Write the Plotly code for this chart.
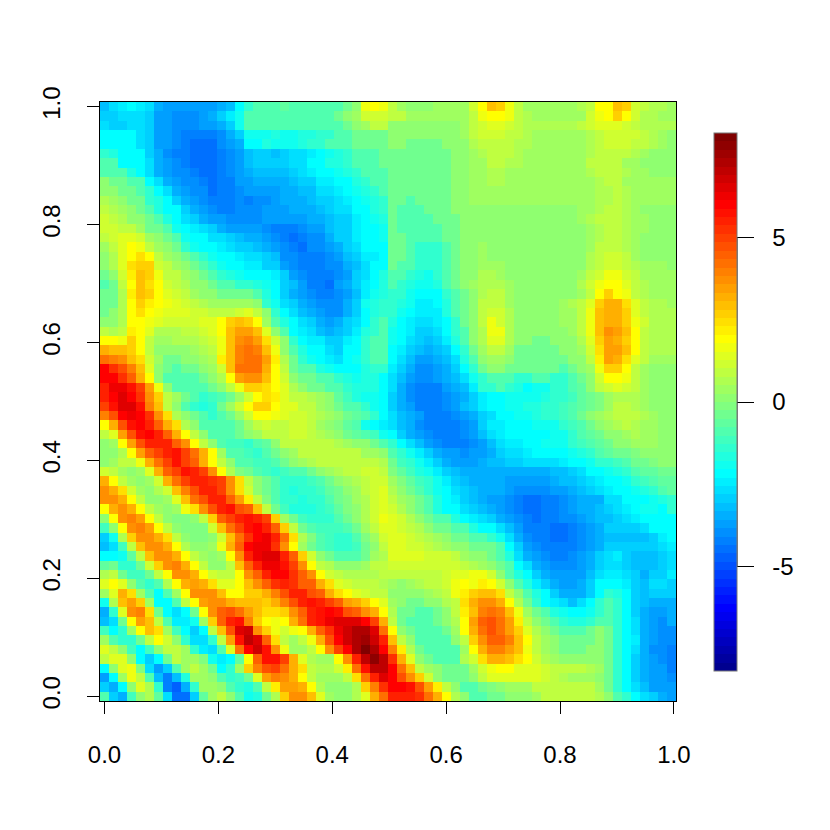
import numpy as np
import plotly.graph_objects as go

# jet-like palette, 64 steps (tim.colors)
palette_rgb = []
for k in range(64):
    r = min(1, max(0, min((k - 23) / 16, (71 - k) / 16)))
    g = min(1, max(0, min((k - 7) / 16, (55 - k) / 16)))
    b = min(1, max(0, min((k + 9) / 16, (39 - k) / 16)))
    palette_rgb.append(f"rgb({round(r * 255)},{round(g * 255)},{round(b * 255)})")

z_min = -8.18
z_max = 8.18
x_ticks = [0.0, 0.2, 0.4, 0.6, 0.8, 1.0]
y_ticks = [0.0, 0.2, 0.4, 0.6, 0.8, 1.0]
bar_ticks = [-5, 0, 5]

# values in tenths, first row is the bottom of the image
z_tenths = [
[-10,-30,-35,-12,2,7,-7,-27, -46,-44,-30,-7,5,10,1,-10, -19,-16,-3,7,27,37,37,30, 13,3,1,1,7,14,32,43, 54,55,55,53,43,32,20,7, 0,-8,-8,-5,-3,0,0,2, 5,10,10,10,10,10,10,7, 0,-8,-13,-21,-27,-30,-34,-37],
[-30,-34,-21,2,15,7,-15,-42, -48,-35,-13,5,4,2,-8,-13, -16,-8,10,22,35,35,33,20, 7,2,1,2,7,28,40,53, 60,60,58,48,35,22,10,0, -8,-8,-5,-2,1,3,5,5, 8,10,10,10,10,9,8,5, -3,-13,-21,-27,-32,-37,-37,-37],
[-37,-21,3,17,10,-10,-32,-42, -33,-16,5,5,0,-10,-15,-12, -3,14,35,40,38,32,20,10, 5,5,3,8,24,43,56,66, 60,48,37,27,12,2,-5,-5, -5,0,8,13,14,15,14,14, 14,12,10,7,5,5,5,2, -3,-13,-21,-30,-34,-37,-37,-40],
[-22,0,14,16,-2,-27,-37,-30, -8,5,8,5,-3,-21,-13,3, 26,40,47,50,43,33,25,10, 6,7,12,22,42,58,70,70, 60,42,30,10,3,0,-5,-5, -3,5,12,17,20,19,15,13, 13,11,10,10,10,9,7,3, -3,-13,-21,-30,-34,-37,-38,-41],
[8,13,13,0,-21,-30,-23,-5, 8,5,3,-1,-18,-25,-21,-7, 20,44,58,58,50,32,14,7, 5,5,20,36,54,70,78,70, 53,32,15,2,-5,-10,-10,-8, 7,12,24,32,32,30,24,20, 12,7,5,2,2,2,2,2, -3,-13,-21,-30,-34,-37,-40,-42],
[14,10,0,-12,-21,-12,0,10, 10,3,-13,-25,-27,-8,14,43, 60,67,58,38,16,5,3,10, 20,36,50,60,74,80,74,60, 40,22,7,-3,-8,-10,-10,-8, 5,20,32,40,40,35,30,16, 10,5,2,-3,-3,-3,0,2, -5,-13,-23,-27,-34,-40,-40,-42],
[3,-8,-15,-15,-5,8,20,12, 2,-15,-27,-27,-13,10,35,57, 71,65,44,24,10,5,10,16, 32,48,60,67,74,76,69,56, 30,10,0,-8,-10,-10,-8,0, 10,27,37,45,45,40,30,18, 10,5,0,-3,-5,-5,-3,2, -5,-13,-21,-25,-34,-37,-40,-40],
[-12,-21,-15,3,20,30,24,5, -12,-23,-30,-21,8,30,48,66, 68,36,27,16,12,16,20,32, 44,52,62,67,72,72,66,42, 20,2,-5,-8,-10,-10,-5,5, 18,32,43,48,43,35,27,15, 7,0,-5,-8,-8,-8,-5,0, -3,-13,-23,-27,-34,-37,-40,-40],
[-32,-27,-5,18,35,30,10,-10, -25,-25,-18,5,27,46,56,58, 40,27,18,16,19,33,42,56, 58,62,64,64,66,60,50,32, 10,-3,-8,-8,-8,-5,0,7, 20,35,45,48,43,35,22,10, 2,-5,-8,-13,-16,-16,-13,-8, -8,-13,-21,-27,-34,-37,-40,-34],
[-34,-13,14,38,40,24,-3,-23, -27,-23,-3,20,38,46,48,42, 35,30,24,24,28,38,44,54, 58,61,57,48,44,36,32,20, 7,-3,-5,-8,-8,-3,2,10, 22,30,40,43,40,30,17,5, -3,-10,-16,-18,-21,-23,-18,-13, -10,-13,-21,-30,-34,-37,-37,-34],
[-18,6,30,35,26,5,-23,-23, -8,10,18,35,38,38,33,30, 30,30,27,32,40,48,56,58, 56,50,44,35,33,26,20,14, 5,0,-3,-3,0,2,7,10, 24,32,37,37,32,20,7,-3, -13,-21,-25,-27,-32,-27,-21,-13, -10,-13,-21,-30,-32,-34,-34,-34],
[3,15,32,25,5,-10,-21,-10, 5,18,36,38,36,30,19,19, 26,27,33,40,48,56,54,48, 44,33,24,20,14,12,10,10, 2,2,0,2,5,7,10,17, 22,27,30,30,24,10,0,-8, -16,-23,-30,-34,-34,-34,-30,-23, -13,-16,-23,-30,-32,-30,-30,-30],
[14,20,14,2,-8,-13,-8,7, 18,32,35,32,24,14,14,18, 30,37,45,53,56,53,46,44, 32,24,14,11,10,8,8,7, 5,2,5,7,10,10,12,16, 20,17,22,20,12,2,-8,-16, -25,-30,-34,-37,-37,-34,-30,-23, -21,-21,-25,-30,-32,-27,-27,-30],
[7,9,-3,-12,-12,-3,8,20, 38,36,33,20,12,8,10,18, 36,46,56,59,61,52,44,36, 20,11,8,7,6,6,7,10, 10,10,10,10,10,10,12,15, 15,16,16,12,2,-8,-16,-21, -30,-34,-37,-37,-37,-37,-32,-27, -25,-25,-27,-30,-34,-30,-30,-25],
[-6,-3,-13,-13,-4,12,27,38, 40,33,20,9,2,2,10,30, 44,56,62,62,58,50,36,18, 10,6,2,0,1,5,8,10, 11,11,11,11,11,11,11,11, 10,7,5,2,-3,-10,-21,-27, -34,-37,-40,-40,-40,-37,-34,-30, -27,-27,-30,-32,-32,-32,-30,-27],
[-21,-22,-19,-6,10,29,38,38, 33,20,8,3,2,4,20,38, 54,62,65,65,54,44,26,11, 2,-4,-8,-9,-9,-3,3,7, 13,13,13,13,12,12,11,10, 5,2,0,-3,-8,-16,-27,-34, -37,-40,-42,-42,-40,-37,-34,-30, -27,-25,-30,-32,-32,-32,-30,-27],
[-32,-27,-11,8,30,38,38,33, 20,7,1,1,4,17,32,46, 60,63,63,52,36,19,5,-4, -8,-11,-14,-14,-12,-5,2,9, 14,13,12,11,9,7,5,2, 0,-3,-5,-5,-10,-21,-30,-37, -40,-42,-42,-42,-42,-40,-37,-34, -30,-30,-30,-30,-30,-30,-27,-25],
[-29,-20,6,28,37,38,33,25, 8,1,-1,-1,1,11,29,41, 53,60,62,56,41,25,7,-2, -8,-11,-13,-13,-8,-2,5,12, 14,13,11,9,7,5,0,-3, -5,-8,-10,-13,-18,-27,-34,-40, -42,-42,-45,-45,-42,-40,-37,-34, -32,-32,-32,-32,-32,-30,-25,-21],
[-12,0,18,38,40,35,20,10, 0,-2,-2,-1,12,30,41,51, 58,60,56,44,27,10,-3,-10, -12,-12,-11,-8,-3,3,10,15, 15,12,10,7,2,-3,-5,-8, -10,-16,-21,-23,-27,-32,-37,-42, -42,-42,-45,-45,-42,-40,-37,-34, -30,-30,-30,-30,-27,-23,-21,-21],
[0,20,38,40,35,20,9,2, -1,-1,1,9,28,44,50,56, 58,56,50,27,5,-5,-11,-14, -15,-13,-9,-4,1,6,12,16, 14,12,7,2,-3,-8,-10,-16, -21,-25,-27,-30,-34,-37,-40,-42, -45,-42,-42,-40,-40,-37,-34,-32, -32,-30,-27,-25,-21,-23,-21,-21],
[20,32,38,33,19,10,3,1, 4,16,24,38,48,54,57,48, 44,30,10,-3,-12,-16,-17,-16, -14,-11,-6,-2,2,6,12,15, 12,7,2,-3,-10,-16,-21,-23, -27,-30,-32,-34,-37,-40,-42,-45, -45,-42,-42,-40,-37,-34,-34,-32, -30,-27,-25,-21,-18,-18,-21,-13],
[38,36,32,20,8,1,2,5, 14,29,42,48,54,54,46,34, 22,8,-2,-8,-13,-15,-16,-15, -13,-9,-5,-1,3,7,12,15, 10,5,0,-5,-10,-16,-21,-25, -30,-32,-34,-37,-37,-40,-42,-45, -45,-42,-42,-40,-37,-34,-34,-34, -27,-27,-23,-21,-23,-18,-16,-13],
[38,32,25,12,3,1,6,11, 30,40,48,54,55,49,38,25, 12,1,-4,-10,-14,-16,-15,-14, -11,-7,-3,1,4,8,12,13, 7,2,-3,-8,-13,-18,-23,-27, -30,-32,-34,-34,-35,-37,-40,-40, -40,-40,-37,-37,-34,-32,-30,-27, -25,-23,-21,-19,-17,-13,-10,-7],
[32,20,10,3,1,4,12,32, 43,50,54,54,53,49,36,25, 8,1,-4,-9,-13,-14,-15,-12, -8,-4,0,3,6,8,11,12, 3,-2,-7,-11,-15,-20,-25,-30, -32,-34,-34,-34,-34,-37,-37,-37, -37,-37,-34,-33,-32,-30,-27,-25, -23,-21,-18,-15,-12,-9,-7,-6],
[12,9,3,2,5,14,32,44, 50,57,54,50,38,20,7,-1, -5,-9,-11,-13,-12,-10,-8,-3, 1,4,6,9,10,12,12,10, -1,-7,-11,-16,-20,-25,-30,-33, -34,-34,-34,-34,-34,-34,-34,-34, -34,-34,-32,-32,-30,-27,-23,-21, -19,-17,-13,-10,-7,-6,-4,-3],
[1,3,8,10,17,32,42,50, 57,50,44,32,20,8,0,-8, -10,-12,-11,-8,-4,0,4,7, 9,9,9,10,10,9,8,6, -3,-11,-15,-20,-25,-30,-34,-36, -37,-37,-34,-33,-32,-30,-30,-28, -28,-27,-27,-25,-23,-21,-18,-15, -13,-11,-8,-5,-3,-1,0,0],
[0,1,6,20,35,44,50,55, 58,50,41,32,20,3,-8,-10, -12,-13,-9,-4,0,4,8,9, 10,10,10,9,8,5,3,1, -8,-15,-20,-25,-30,-34,-37,-38, -40,-38,-36,-34,-30,-27,-27,-25, -23,-23,-22,-21,-19,-16,-13,-10, -7,-5,-3,-1,0,1,2,2],
[1,3,20,35,47,54,56,54, 44,36,20,10,1,-10,-12,-12, -13,-10,-6,0,8,10,10,10, 9,8,6,3,2,0,-4,-8, -15,-21,-27,-32,-37,-40,-41,-42, -42,-40,-37,-32,-27,-25,-25,-23, -21,-20,-19,-18,-15,-12,-9,-6, -3,0,2,3,3,3,2,2],
[8,13,34,48,58,60,54,45, 33,20,9,0,-9,-10,-8,-5, 2,5,8,8,10,12,12,10, 7,3,0,-3,-6,-9,-12,-18, -23,-30,-34,-37,-40,-41,-42,-41, -40,-37,-32,-27,-25,-23,-22,-21, -21,-21,-20,-19,-15,-10,-7,-3, 1,2,4,6,5,3,2,1],
[20,32,48,58,60,55,45,32, 24,7,0,-8,-10,-10,-8,-3, 5,10,12,10,10,12,12,10, 5,1,-2,-6,-10,-18,-21,-24, -27,-32,-35,-39,-41,-42,-42,-41, -40,-37,-30,-25,-24,-22,-21,-21, -19,-19,-18,-15,-12,-8,-3,2, 5,6,8,7,5,3,1,1],
[40,48,60,63,60,53,37,24, 7,0,-5,-10,-13,-10,-3,5, 12,18,18,17,13,12,12,10, 6,3,0,-3,-7,-10,-15,-21, -27,-32,-35,-38,-41,-42,-42,-40, -38,-34,-30,-26,-22,-21,-20,-18, -17,-15,-14,-11,-8,-5,0,3, 6,8,9,8,6,4,2,2],
[50,58,65,65,58,40,30,10, 0,-8,-13,-16,-13,-3,5,12, 20,27,27,20,13,13,10,8, 4,0,-4,-8,-10,-15,-18,-21, -30,-34,-38,-41,-42,-41,-40,-37, -33,-30,-25,-21,-21,-20,-18,-17, -16,-14,-14,-12,-9,-7,-4,-1, 5,8,8,7,5,2,1,1],
[54,60,64,60,52,38,26,8, 3,-5,-10,-13,-12,-8,-3,3, 12,20,24,22,14,10,8,7, 5,1,-6,-12,-16,-19,-20,-21, -30,-34,-40,-42,-43,-42,-40,-37, -34,-30,-24,-21,-21,-20,-18,-20, -19,-17,-15,-13,-11,-7,-3,-1, 3,6,7,6,4,2,1,0],
[55,62,63,58,50,35,16,0, -8,-10,-10,-8,-3,2,10,17, 27,27,24,20,13,7,2,-3, -5,-8,-10,-13,-16,-16,-16,-21, -27,-34,-40,-43,-43,-42,-37,-34, -32,-25,-15,-13,-10,-13,-17,-21, -20,-18,-15,-13,-10,-6,0,8, 12,13,12,8,3,2,1,1],
[60,60,53,45,32,20,2,-8, -10,-10,-8,-5,0,7,20,35, 37,37,30,20,12,2,-3,-5, -8,-10,-13,-16,-18,-16,-16,-21, -27,-32,-37,-40,-40,-37,-34,-32, -27,-18,-13,-8,-8,-10,-13,-13, -10,-10,-13,-13,-10,-5,2,12, 20,20,16,10,5,2,2,0],
[60,53,48,40,30,15,2,-5, -8,-5,-3,0,5,12,30,43, 43,43,32,20,10,-3,-8,-10, -16,-18,-23,-23,-21,-16,-13,-13, -25,-30,-34,-40,-40,-37,-34,-30, -21,-13,-3,0,0,-3,-5,-5, -3,-3,-5,-8,-3,0,5,16, 27,27,20,10,5,2,2,2],
[43,40,37,30,24,12,5,-3, -3,0,2,5,7,22,30,40, 43,43,35,22,7,-5,-13,-18, -21,-25,-27,-23,-18,-13,-10,-10, -23,-27,-32,-37,-37,-34,-32,-27, -16,-8,0,5,5,0,-3,-3, -3,-3,-3,-3,0,2,10,22, 35,32,24,15,10,5,5,5],
[32,30,30,27,20,10,2,0, 0,2,5,7,10,16,30,40, 43,40,30,16,2,-8,-16,-23, -23,-27,-30,-23,-21,-13,-10,-8, -21,-25,-30,-32,-34,-32,-30,-21, -13,-3,5,10,10,5,-3,-3, -3,-3,-3,0,2,5,12,24, 35,35,30,20,10,7,7,7],
[20,20,17,27,20,10,5,5, 7,7,7,10,12,17,30,37, 40,35,24,12,0,-13,-21,-25, -25,-30,-30,-25,-21,-13,-10,-8, -18,-23,-27,-30,-32,-30,-25,-16, -8,0,7,15,15,7,0,0, -3,-3,0,2,2,7,15,27, 35,32,27,20,10,7,7,7],
[10,7,10,22,20,15,7,7, 7,10,10,12,15,20,30,35, 35,30,14,0,-10,-21,-25,-27, -32,-34,-32,-30,-25,-16,-13,-8, -18,-21,-25,-30,-30,-27,-23,-13, -8,0,7,16,16,7,0,0, 0,0,2,2,5,10,16,30, 37,35,30,20,10,7,7,7],
[0,2,7,20,20,17,15,12, 12,12,12,13,15,20,27,30, 27,20,5,-8,-16,-23,-27,-30, -34,-37,-34,-30,-27,-21,-13,-10, -16,-21,-25,-27,-27,-25,-21,-13, -5,2,10,16,12,7,2,2, 2,2,2,5,5,10,17,30, 32,32,27,17,12,7,7,7],
[-3,0,7,20,24,20,16,15, 15,14,12,12,10,10,10,12, 15,10,0,-13,-23,-27,-32,-34, -37,-40,-40,-34,-30,-23,-16,-13, -13,-18,-23,-25,-25,-25,-16,-10, -3,2,10,12,12,7,2,2, 0,0,2,5,5,10,16,30, 32,32,27,15,10,7,7,7],
[-5,-3,7,20,27,22,20,17, 14,12,10,7,5,5,5,5, 5,0,-13,-18,-27,-30,-34,-37, -40,-40,-40,-34,-30,-18,-16,-13, -13,-16,-20,-24,-24,-23,-16,-8, -3,2,10,10,10,5,2,2, 2,2,2,5,7,10,15,27, 32,32,25,15,10,7,7,5],
[-5,-3,7,22,30,27,20,15, 12,10,5,2,0,-3,-3,-3, -5,-8,-16,-23,-30,-34,-37,-40, -42,-42,-40,-37,-32,-25,-18,-16, -13,-13,-18,-23,-23,-21,-13,-8, -3,2,7,10,10,5,2,2, 2,2,2,2,2,5,10,20, 27,20,16,10,7,5,5,5],
[-8,-3,10,20,30,24,20,12, 10,7,2,0,-3,-8,-10,-13, -13,-16,-18,-21,-30,-32,-37,-42, -42,-45,-37,-34,-30,-25,-21,-16, -10,-13,-16,-18,-18,-16,-10,-5, 0,5,7,7,7,5,2,2, 2,2,2,2,2,7,12,17, 20,20,15,10,7,5,5,5],
[-3,2,12,22,30,27,16,10, 10,5,0,-3,-8,-13,-16,-18, -21,-21,-23,-25,-30,-37,-40,-42, -42,-42,-40,-37,-30,-27,-21,-16, -8,-10,-13,-16,-18,-13,-10,-3, 0,2,7,7,5,2,2,2, 2,2,2,2,2,5,10,12, 16,16,12,10,5,5,5,5],
[0,7,15,24,27,27,12,10, 5,0,-5,-8,-13,-18,-21,-23, -25,-25,-30,-30,-37,-40,-42,-42, -42,-40,-40,-34,-32,-27,-23,-21, -5,-8,-10,-13,-13,-13,-8,-5, 0,2,5,5,5,2,2,2, 2,2,2,2,2,2,7,10, 12,12,10,7,5,5,5,2],
[2,7,15,20,24,20,10,5, 0,-5,-8,-13,-18,-21,-23,-25, -27,-27,-30,-32,-40,-40,-42,-42, -42,-40,-37,-32,-30,-25,-25,-21, -5,-5,-8,-13,-13,-13,-8,-3, 2,2,5,2,2,2,2,2, 2,2,2,2,2,2,7,10, 12,12,10,5,2,2,2,2],
[5,10,15,20,16,10,5,0, -5,-13,-18,-21,-23,-25,-27,-30, -30,-32,-34,-37,-40,-42,-45,-40, -40,-37,-34,-30,-27,-23,-21,-21, -3,-5,-8,-13,-13,-13,-8,-3, 2,2,5,2,2,2,2,2, 2,2,2,2,2,2,5,10, 10,10,7,5,2,2,2,2],
[10,12,15,15,12,5,0,-5, -10,-18,-21,-23,-27,-27,-30,-32, -34,-34,-37,-40,-42,-45,-42,-40, -40,-34,-30,-30,-25,-23,-21,-18, -3,-5,-8,-8,-8,-8,-5,-3, 2,2,2,2,2,2,2,2, 2,2,2,2,2,2,5,7, 10,10,7,5,2,2,2,2],
[12,12,10,10,5,-3,-5,-10, -18,-21,-25,-27,-30,-34,-37,-37, -37,-37,-40,-42,-42,-42,-40,-37, -37,-32,-30,-30,-25,-23,-21,-18, -5,-8,-8,-8,-8,-8,-5,-3, 2,2,2,2,2,2,2,2, 2,2,2,2,2,2,5,7, 10,10,7,5,5,2,2,2],
[12,10,7,2,0,-5,-10,-16, -21,-27,-30,-34,-37,-37,-40,-40, -40,-40,-37,-37,-37,-37,-37,-34, -34,-32,-30,-30,-25,-23,-18,-16, -5,-8,-8,-8,-8,-5,-3,-3, 0,2,2,2,2,2,2,2, 2,2,2,2,2,5,7,10, 10,10,7,5,5,2,2,2],
[10,7,5,0,-5,-8,-16,-21, -23,-30,-34,-37,-40,-42,-42,-40, -40,-40,-37,-37,-37,-34,-34,-34, -32,-30,-27,-27,-23,-21,-16,-13, -5,-8,-8,-8,-5,-5,-3,0, 0,2,2,2,2,2,2,2, 2,2,2,2,2,5,5,7, 10,10,7,5,2,2,2,2],
[7,5,2,-3,-5,-13,-16,-21, -30,-34,-37,-40,-42,-42,-42,-40, -42,-40,-40,-37,-34,-34,-34,-32, -30,-30,-27,-25,-21,-18,-16,-13, -5,-5,-8,-5,-5,-5,-3,0, 2,5,5,5,5,5,5,5, 5,5,5,5,5,5,5,7, 7,10,7,5,5,5,5,5],
[2,0,-3,-5,-10,-13,-21,-27, -34,-37,-40,-40,-45,-42,-42,-40, -37,-37,-37,-37,-34,-34,-32,-32, -27,-27,-25,-21,-18,-16,-13,-10, -3,-5,-5,-5,-5,-3,-3,0, 2,5,5,5,5,5,5,5, 5,5,5,5,5,5,5,7, 7,10,7,5,5,5,5,5],
[0,-3,-5,-8,-10,-21,-27,-34, -37,-40,-40,-42,-45,-42,-42,-37, -37,-34,-34,-34,-34,-32,-30,-30, -25,-25,-21,-21,-16,-13,-10,-8, -3,-5,-5,-5,-3,-3,-3,0, 2,5,5,7,7,5,5,5, 5,5,5,5,5,5,5,7, 10,10,5,5,5,5,5,5],
[-8,-8,-10,-16,-21,-27,-34,-37, -40,-40,-42,-45,-45,-42,-40,-37, -34,-32,-32,-32,-32,-30,-27,-25, -23,-21,-18,-16,-13,-10,-8,-8, -3,-5,-5,-5,-3,-3,-3,0, 2,5,5,7,7,5,5,5, 5,5,5,5,5,5,7,10, 10,10,7,5,5,2,2,2],
[-8,-10,-21,-21,-23,-27,-34,-37, -40,-42,-45,-45,-45,-42,-40,-37, -32,-30,-30,-30,-30,-27,-27,-23, -21,-16,-16,-13,-10,-8,-8,-5, -3,-5,-5,-5,-3,-3,-3,0, 2,5,5,10,10,7,7,5, 5,5,5,5,5,5,10,10, 10,10,5,5,2,2,2,2],
[-13,-16,-21,-23,-23,-30,-34,-40, -42,-42,-45,-45,-45,-42,-40,-37, -32,-30,-30,-32,-30,-27,-27,-25, -21,-18,-16,-13,-10,-8,-8,-3, -3,-5,-5,-5,-3,-3,-3,0, 2,5,7,10,10,10,7,5, 5,5,5,5,5,5,7,10, 10,10,10,7,5,2,2,2],
[-21,-21,-21,-21,-27,-30,-37,-37, -40,-42,-45,-45,-45,-40,-37,-34, -21,-21,-16,-18,-18,-18,-16,-13, -13,-10,-10,-8,-5,-3,-3,-3, 0,0,-3,-3,-3,-3,0,0, 2,7,10,10,10,10,7,7, 5,5,5,5,5,5,7,10, 12,12,12,10,10,7,5,2],
[-21,-23,-23,-23,-27,-30,-37,-37, -40,-42,-42,-42,-42,-40,-34,-30, -18,-18,-18,-16,-18,-18,-16,-16, -13,-13,-10,-10,-5,-3,-3,-3, 0,2,0,0,0,0,0,2, 5,10,12,12,12,10,10,7, 5,5,5,5,5,5,7,10, 12,12,12,12,10,7,5,2],
[-27,-30,-30,-27,-27,-30,-37,-37, -40,-40,-40,-37,-37,-34,-30,-18, -10,-10,-8,-8,-8,-8,-8,-10, -10,-10,-8,-3,2,5,10,10, 2,2,2,0,2,2,2,2, 5,10,12,15,15,12,10,7, 7,7,7,7,7,10,12,15, 15,15,12,10,7,7,7,7],
[-30,-30,-27,-27,-27,-30,-37,-37, -40,-40,-40,-37,-34,-30,-25,-18, -10,-10,-8,-8,-8,-8,-8,-8, -10,-10,-3,2,5,12,12,12, 10,10,5,5,5,5,5,5, 5,10,17,20,20,17,10,7, 5,5,5,5,5,5,12,17, 20,27,20,12,7,7,5,5],
[-32,-27,-25,-23,-24,-27,-34,-37, -37,-37,-36,-37,-37,-34,-31,-21, -13,-10,-10,-8,-6,-8,-8,-8, -10,-10,-10,-3,2,16,20,16, 10,5,2,2,2,5,5,5, 5,12,20,30,27,17,10,5, 5,5,5,5,5,7,10,20, 20,30,27,12,10,7,7,5],
]

fig = go.Figure()
fig.add_trace(go.Heatmap(
    z=np.array(z_tenths) / 10,
    x0=0,
    dx=9 / 569.4,
    y0=0,
    dy=1 / 63,
    zmin=z_min,
    zmax=z_max,
    colorscale=[[s, c] for i, c in enumerate(palette_rgb) for s in (i / 64, (i + 1) / 64)],
    hoverinfo="skip",
    colorbar=dict(
        thickness=23,
        thicknessmode="pixels",
        len=538,
        lenmode="pixels",
        x=(714 - 100) / 576,
        xanchor="left",
        xpad=0,
        y=(701 - 671) / 599,
        yanchor="bottom",
        ypad=0,
        outlinecolor="#777777",
        outlinewidth=1,
        tickmode="array",
        tickvals=bar_ticks,
        ticktext=["\u00a0\u00a0" + str(t) for t in bar_ticks],
        ticks="outside",
        ticklen=17,
        tickwidth=1,
        tickcolor="black",
        tickfont=dict(family="Liberation Sans", size=24, color="black"),
    ),
))

# page body has an 8px margin, so the figure is a bit smaller than the window
fig.update_layout(
    width=822,
    height=822,
    autosize=False,
    margin=dict(l=92, r=154, t=94, b=129),
    paper_bgcolor="white",
    plot_bgcolor="white",
    font=dict(family="Liberation Sans", size=24, color="black"),
    xaxis=dict(
        range=[-4.5 / 569.4, 571.5 / 569.4],
        tickmode="array",
        tickvals=x_ticks,
        ticktext=[f"{t:.1f}" for t in x_ticks],
        ticks="outside",
        ticklen=12,
        tickwidth=1,
        tickcolor="black",
        ticklabelstandoff=20,
        showgrid=False,
        zeroline=False,
        showline=True,
        linecolor="black",
        linewidth=1,
        mirror=True,
    ),
    yaxis=dict(
        range=[-0.5 / 63, 63.5 / 63],
        tickmode="array",
        tickvals=y_ticks,
        ticktext=[f"{t:.1f}" for t in y_ticks],
        ticks="outside",
        ticklen=12,
        tickwidth=1,
        tickcolor="black",
        tickangle=-90,
        ticklabelstandoff=17,
        showgrid=False,
        zeroline=False,
        showline=True,
        linecolor="black",
        linewidth=1,
        mirror=True,
    ),
    shapes=[dict(
        type="line",
        xref="x domain",
        yref="y domain",
        x0=(737 - 100) / 576,
        x1=(737 - 100) / 576,
        y0=(701 - 567) / 599,
        y1=(701 - 238) / 599,
        line=dict(color="black", width=1),
    )],
)

fig.write_html("out.html")
